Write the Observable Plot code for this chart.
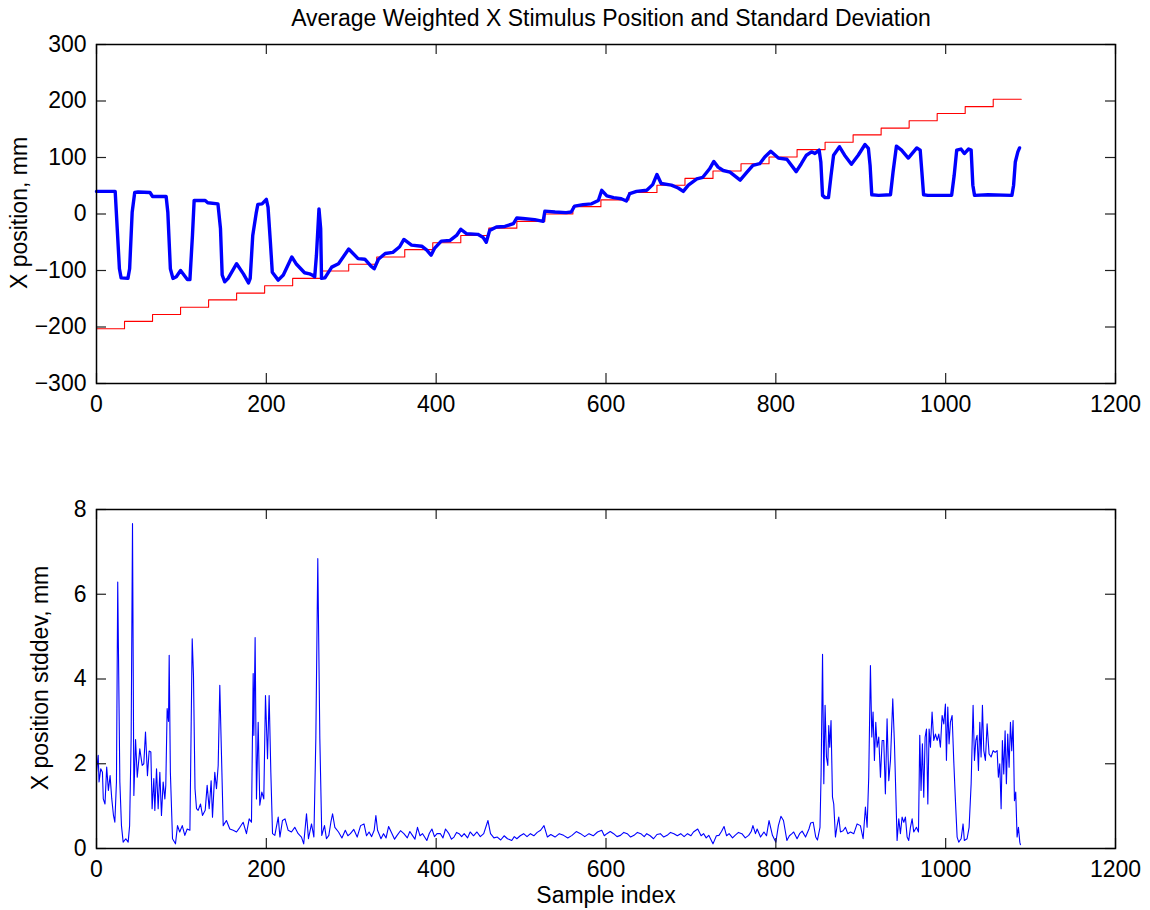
<!DOCTYPE html>
<html>
<head>
<meta charset="utf-8">
<script src="https://cdn.jsdelivr.net/npm/d3@7"></script>
<script src="https://cdn.jsdelivr.net/npm/@observablehq/plot@0.6"></script>
<style>
  body { margin: 0; background: #fff; }
  #fig { position: relative; width: 1150px; height: 910px; overflow: hidden; font-family: "Liberation Sans", Arial, sans-serif; color: #000; }
  .lbl { position: absolute; white-space: nowrap; line-height: 1; font-size: 23px; transform: translate(-50%, -50%); }
  .rot { transform: translate(-50%, -50%) rotate(-90deg); }
  #p1, #p2 { position: absolute; left: 0; }
  #p1 { top: 0; }
  #p2 { top: 455px; }
</style>
</head>
<body>
<div id="fig">
  <div id="p1"></div>
  <div id="p2"></div>
  <div class="lbl" style="left:611px; top:18px;">Average Weighted X Stimulus Position and Standard Deviation</div>
  <div class="lbl rot" style="left:19px; top:213px;">X position, mm</div>
  <div class="lbl rot" style="left:40px; top:678px;">X position stddev, mm</div>
  <div class="lbl" style="left:606px; top:895px;">Sample index</div>
</div>
<script>
// ---- data ----
const xTicks = [0, 200, 400, 600, 800, 1000, 1200];
const topYTicks = [-300, -200, -100, 0, 100, 200, 300];
const bottomYTicks = [0, 2, 4, 6, 8];

// stimulus target (red staircase): start sample of each step and its level (mm)
const stepStart = [0, 33, 66, 99, 132, 165, 198, 231, 264, 297, 330, 363, 396, 429, 462, 495, 528,
  561, 594, 627, 660, 693, 726, 759, 792, 825, 858, 891, 924, 957, 990, 1023, 1056];
const stepLevel = [-203, -190, -178, -165, -152, -140, -127, -114, -101, -89, -76, -63, -51, -38, -25, -13, 0,
  13, 25, 38, 51, 63, 76, 89, 101, 114, 127, 140, 152, 165, 178, 190, 203];
const lastSample = 1089;

// average weighted X position (blue, thick): [sample, mm]
const avgPosition = [
  [0,40],[22,40],[27,-97],[29,-113],[37,-114],[39,-97],[42,3],[45,38],[49,39],[63,38],[66,31],[82,31],
  [84,3],[87,-97],[90,-114],[94,-111],[99,-100],[103,-108],[107,-116],[110,-116],[113,-38],[115,24],
  [128,24],[131,20],[143,18],[146,-26],[148,-108],[151,-120],[155,-114],[165,-88],[173,-106],[179,-122],
  [181,-114],[184,-38],[188,1],[190,17],[195,18],[200,26],[202,12],[205,-55],[207,-103],[214,-117],
  [220,-108],[230,-76],[235,-88],[245,-104],[251,-106],[254,-108],[257,-111],[259,-73],[262,9],[264,-26],
  [265,-114],[269,-113],[277,-94],[285,-88],[297,-62],[308,-79],[316,-80],[323,-92],[327,-97],[332,-80],
  [340,-70],[349,-68],[357,-58],[362,-45],[371,-55],[383,-57],[389,-64],[394,-73],[398,-61],[406,-48],
  [416,-47],[424,-38],[429,-27],[436,-35],[449,-36],[455,-41],[459,-50],[463,-29],[471,-23],[481,-22],
  [491,-17],[495,-7],[502,-8],[516,-10],[526,-13],[528,5],[540,3.5],[553,2.4],[559,3.5],[563,14],
  [573,16.5],[583,18],[591,24],[595,42],[601,32],[609,29],[618,27],[624,23],[628,36],[636,40],[648,42],
  [655,52],[660,70],[665,54],[677,51],[685,46],[691,40],[697,51],[707,62],[714,65],[722,80],[727,93],
  [732,83],[738,77],[746,74],[758,60],[766,74],[773,86],[781,89],[787,101],[794,111],[803,99],[813,97],
  [824,75],[830,89],[836,104],[842,110],[846,107],[851,113],[853,92],[855,33],[858,29],[862,29],[865,68],
  [868,104],[875,119],[881,104],[889,88],[897,104],[905,123],[909,116],[911,86],[913,34],[921,33],
  [935,34],[938,74],[942,120],[948,113],[956,99],[966,117],[970,113],[972,74],[974,34],[979,33],
  [1007,33],[1010,68],[1013,113],[1018,115],[1022,107],[1027,115],[1030,113],[1032,51],[1034,33],
  [1050,34],[1078,33],[1080,51],[1082,92],[1085,110],[1087,117]
];

// X position standard deviation (bottom panel): [sample, mm]
const stdDev = [
  [0,1.8],[2,2.2],[3,1.57],[5,1.88],[7,1.8],[8,1.17],[10,1.05],[12,1.92],[14,1.37],[16,1.72],[18,1.17],
  [20,0.78],[21.6,0.62],[23.5,1.57],[25,6.29],[27.5,1.57],[29.4,0.54],[31.4,0.15],[34.5,0.23],[37.3,0.15],
  [39,0.54],[40.8,2.6],[42.4,7.67],[44,1.25],[46,2.57],[48,1.68],[51,2.35],[53.8,1.96],[55.7,2.0],
  [57.7,2.75],[60,1.72],[62,2.3],[64,2.28],[65.5,0.94],[67.5,1.65],[68.7,0.9],[70.7,1.88],[72.6,0.94],
  [74.6,1.8],[76.5,0.78],[78.5,1.57],[80.5,1.17],[81.6,1.49],[83.2,3.3],[84.8,3.0],[85.6,4.56],[87,1.8],
  [89.5,0.23],[93,0.11],[95.4,0.54],[98,0.39],[101,0.54],[104,0.31],[106.8,0.46],[110,0.43],[112.7,4.95],
  [114.2,4.09],[116,1.41],[117.8,0.94],[119.7,0.9],[122.5,1.05],[124.8,0.78],[128,0.9],[130.3,1.49],
  [132.7,0.94],[135,1.6],[136.6,0.74],[139.3,1.8],[141.3,1.41],[143.3,1.96],[145.2,3.85],[147.2,2.2],
  [149.2,0.54],[153,0.66],[157,0.46],[161,0.43],[164.9,0.39],[168.8,0.5],[172.7,0.62],[176.6,0.35],
  [179.8,0.7],[182.5,0.62],[184.5,4.13],[185.3,2.67],[186.8,4.98],[188.4,1.17],[190.4,2.98],[192.3,1.02],
  [194.7,1.33],[197,1.17],[199,3.61],[201.4,2.12],[203.3,3.61],[205.3,1.8],[207.3,0.35],[210,0.31],
  [214,0.74],[216,0.27],[219,0.66],[222,0.7],[225.7,0.43],[229.6,0.39],[233.5,0.5],[237.5,0.35],
  [241.4,0.27],[244,0.11],[247.3,0.82],[249.6,0.23],[253.2,0.58],[256,0.27],[258.3,2.6],[260.6,6.84],
  [263,2.6],[265.3,0.31],[268.5,0.54],[270.8,0.23],[273.6,0.31],[276,0.62],[278,0.82],[280.7,0.5],
  [285,0.39],[289,0.25],[293,0.43],[296,0.3],[299,0.35],[303,0.45],[307,0.27],[311,0.54],[315,0.58],
  [318,0.3],[321,0.39],[324,0.28],[327,0.43],[329,0.78],[331,0.43],[335,0.23],[338,0.35],[341,0.25],
  [344,0.52],[348,0.35],[351,0.22],[354,0.31],[358,0.42],[362,0.35],[366,0.25],[369,0.4],[372,0.31],
  [375,0.22],[378,0.5],[381,0.3],[384,0.35],[389,0.19],[392,0.36],[395,0.46],[398,0.28],[401,0.35],
  [405,0.35],[408,0.25],[411,0.46],[415,0.35],[418,0.22],[421,0.27],[424,0.38],[427,0.35],[430,0.28],
  [433,0.35],[437,0.25],[440,0.39],[444,0.3],[448,0.39],[452,0.28],[456,0.35],[461,0.66],[464,0.35],
  [468,0.25],[472,0.27],[476,0.2],[480,0.3],[484,0.23],[489,0.19],[492,0.28],[495,0.23],[499,0.3],
  [503,0.35],[507,0.28],[511,0.35],[515,0.3],[519,0.38],[523,0.43],[527,0.54],[531,0.27],[535,0.33],
  [540,0.27],[545,0.35],[550,0.31],[555,0.25],[560,0.31],[565,0.4],[570,0.35],[575,0.28],[580,0.35],
  [585,0.3],[590,0.39],[595,0.43],[598,0.3],[601,0.35],[605,0.4],[609,0.35],[613,0.28],[617,0.31],
  [621,0.38],[625,0.35],[629,0.27],[633,0.31],[637,0.38],[641,0.35],[645,0.28],[648,0.35],[652,0.3],
  [656,0.23],[660,0.33],[664,0.35],[668,0.27],[672,0.31],[676,0.38],[680,0.35],[684,0.3],[688,0.35],
  [692,0.28],[696,0.35],[700,0.3],[703,0.39],[708,0.46],[712,0.3],[715,0.35],[718,0.25],[721,0.31],
  [726,0.11],[730,0.3],[733,0.31],[736,0.4],[739,0.52],[742,0.3],[745,0.35],[749,0.25],[752,0.31],
  [756,0.38],[760,0.35],[764,0.25],[768,0.31],[771,0.4],[773,0.54],[776,0.35],[778,0.46],[782,0.27],
  [786,0.39],[789,0.3],[792,0.66],[796,0.31],[800,0.15],[803,0.54],[806,0.76],[809,0.66],[813,0.19],
  [816,0.3],[819,0.35],[821,0.39],[825,0.23],[828,0.35],[831,0.41],[835,0.27],[839,0.46],[841,0.6],
  [844,0.62],[847,0.27],[849,0.2],[852,0.5],[853.3,1.76],[855,4.58],[856.5,1.53],[858,3.38],[859.6,2.16],
  [861.2,1.96],[862.3,2.9],[863.5,2.39],[865,3.02],[866.7,1.21],[868.2,1.05],[870.2,0.27],[872.2,0.54],
  [874.1,0.74],[876.1,0.39],[879.2,0.42],[882,0.5],[884.7,0.35],[887.9,0.39],[891.8,0.35],[895.7,0.58],
  [899.6,0.54],[902.8,0.23],[905.5,0.98],[907.5,0.5],[909.4,1.68],[911.4,4.32],[913,2.63],[914.5,3.22],
  [916.1,2.08],[917.7,2.98],[919.3,2.39],[921.2,2.63],[923.2,1.68],[925.2,2.55],[927.1,2.55],[929,1.29],
  [931,3.06],[933,1.6],[935,2.08],[937.7,3.53],[939.7,2.47],[942.8,0.19],[944.8,0.7],[946.7,0.35],
  [948.7,0.74],[950.7,0.62],[952.6,0.74],[954.6,0.27],[956.5,0.19],[958.5,0.5],[960.5,0.7],[962.4,0.39],
  [965.6,0.5],[968,0.39],[969.5,2.67],[971,1.37],[972.6,2.47],[974.2,1.21],[975.8,2.63],[977.4,2.82],
  [979,1.05],[980.5,2.82],[982.1,2.39],[984,3.22],[986,2.55],[988,2.7],[990,2.55],[991.9,2.7],
  [993.8,2.39],[995.8,3.14],[997.8,2.94],[999.7,3.41],[1000.9,2.08],[1002.5,3.34],[1004,2.47],
  [1005.6,2.98],[1007.6,3.14],[1009.5,2.08],[1011.5,1.13],[1013.5,0.27],[1015.4,0.15],[1018.2,0.23],
  [1020.5,0.58],[1022,0.19],[1025.2,0.23],[1027.6,0.5],[1030,1.53],[1032.3,3.38],[1033.9,2.08],
  [1035.5,2.55],[1037,2.67],[1038.6,1.84],[1040.2,2.98],[1041.7,2.16],[1043.3,3.38],[1044.9,2.31],
  [1046.8,2.08],[1048.8,2.94],[1051.1,2.23],[1053.5,2.16],[1055.9,2.31],[1058.2,2.27],[1060.6,2.31],
  [1062.1,1.68],[1063.7,2.0],[1065.3,0.94],[1066.8,2.55],[1068.4,1.76],[1070,2.78],[1071.5,1.53],
  [1073.1,2.7],[1074.7,1.92],[1076.3,2.98],[1077.8,2.31],[1079.4,3.02],[1081,1.13],[1082.5,1.33],
  [1084.1,0.27],[1085.7,0.5],[1087.3,0.15],[1088,0.09]
];

// ---- drawing ----
const W = 1150;
const ML = 96, MR = 35;
const FH = 339;            // frame height of each panel
const FW = W - ML - MR;    // frame width
const TICK = 10;
const FS = 23;
const font = {fontFamily: "Liberation Sans, Arial, sans-serif", fontSize: FS + "px", color: "#000", background: "#fff"};
const fmt = d => (d < 0 ? "\u2212" + Math.abs(d) : String(d));

function boxTicks(yTicks) {
  return [
    Plot.ruleX(xTicks, {x: d => d, insetTop: FH - TICK, stroke: "#222", strokeWidth: 1.2}),
    Plot.ruleX(xTicks, {x: d => d, insetBottom: FH - TICK, stroke: "#222", strokeWidth: 1.2}),
    Plot.ruleY(yTicks, {y: d => d, insetRight: FW - TICK, stroke: "#222", strokeWidth: 1.2}),
    Plot.ruleY(yTicks, {y: d => d, insetLeft: FW - TICK, stroke: "#222", strokeWidth: 1.2}),
    Plot.axisX(xTicks, {tickSize: 0, tickPadding: 12, label: null, fontSize: FS, tickFormat: fmt}),
    Plot.axisY(yTicks, {tickSize: 0, tickPadding: 10, label: null, fontSize: FS, tickFormat: fmt}),
    Plot.frame({stroke: "#000", strokeWidth: 1.5})
  ];
}

const stepData = stepStart.map((s, i) => ({x: s, y: stepLevel[i]}));
stepData.push({x: lastSample, y: stepLevel[stepLevel.length - 1]});

const topPlot = Plot.plot({
  width: W, height: 455,
  marginLeft: ML, marginRight: MR, marginTop: 44, marginBottom: 72,
  style: font,
  x: {domain: [0, 1200]},
  y: {domain: [-300, 300]},
  marks: [
    Plot.line(stepData, {x: "x", y: "y", curve: "step-after", stroke: "#ff0000", strokeWidth: 1.1}),
    Plot.line(avgPosition, {x: d => d[0], y: d => d[1], stroke: "#0000ff", strokeWidth: 3.4, strokeLinejoin: "round", strokeLinecap: "round"}),
    ...boxTicks(topYTicks)
  ]
});

const bottomPlot = Plot.plot({
  width: W, height: 455,
  marginLeft: ML, marginRight: MR, marginTop: 54, marginBottom: 62,
  style: font,
  x: {domain: [0, 1200]},
  y: {domain: [0, 8]},
  marks: [
    Plot.line(stdDev, {x: d => d[0], y: d => d[1], stroke: "#0000ff", strokeWidth: 1.1}),
    ...boxTicks(bottomYTicks)
  ]
});

document.getElementById("p1").appendChild(topPlot);
document.getElementById("p2").appendChild(bottomPlot);
</script>
</body>
</html>
